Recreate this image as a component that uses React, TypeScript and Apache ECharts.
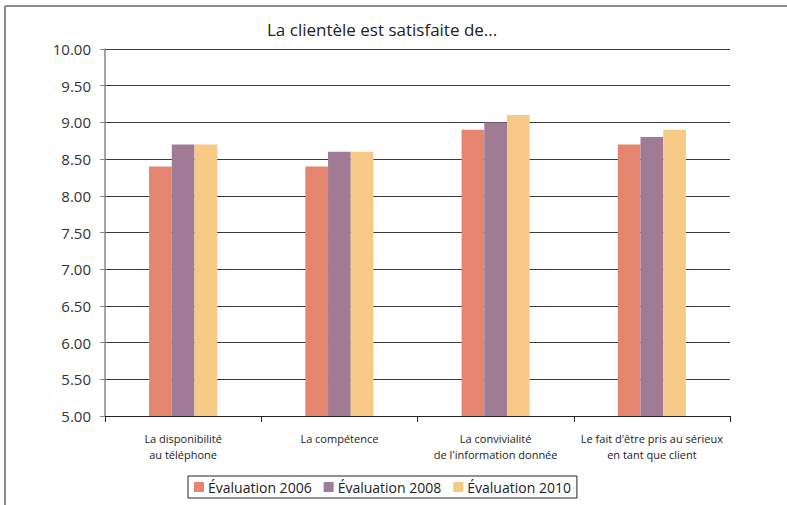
import React, { useEffect, useRef } from "react";
import * as echarts from "echarts";

const categories = [
  "La disponibilité\nau téléphone",
  "La compétence",
  "La convivialité\nde l'information donnée",
  "Le fait d'être pris au sérieux\nen tant que client",
];
const seriesNames = ["Évaluation 2006", "Évaluation 2008", "Évaluation 2010"];
const values2006 = [8.4, 8.4, 8.9, 8.7];
const values2008 = [8.7, 8.6, 9.0, 8.8];
const values2010 = [8.7, 8.6, 9.1, 8.9];
const colors = ["#e4856f", "#a07b96", "#f7c987"];
const FONT = "'Open Sans', 'Noto Sans', sans-serif";

export default function App() {
  const ref = useRef<HTMLDivElement>(null);
  useEffect(() => {
    if (!ref.current) return;
    const chart = echarts.init(ref.current, undefined, { renderer: "svg" });
    const data = [values2006, values2008, values2010];
    chart.setOption({
      animation: false,
      backgroundColor: "#ffffff",
      title: {
        text: "La clientèle est satisfaite de...",
        left: 262,
        top: 16,
        textStyle: { fontFamily: FONT, fontWeight: "normal", fontSize: 17, color: "#222" },
      },
      legend: {
        data: seriesNames,
        left: 188,
        top: 476,
        itemWidth: 10,
        itemHeight: 10,
        itemGap: 12,
        padding: [4, 6],
        borderColor: "#222",
        borderWidth: 1,
        icon: "rect",
        textStyle: { fontFamily: FONT, fontSize: 14, color: "#222", padding: [0, 0, 0, -1] },
      },
      grid: { left: 105, right: 57, top: 49, bottom: 89 },
      xAxis: {
        type: "category",
        data: categories,
        axisLine: { lineStyle: { color: "#222", width: 1 } },
        axisTick: { show: true, length: 6, alignWithLabel: false, interval: 0, lineStyle: { color: "#222" } },
        axisLabel: { fontFamily: FONT, fontSize: 11, color: "#222", margin: 14, lineHeight: 16, interval: 0 },
      },
      yAxis: {
        type: "value",
        min: 5,
        max: 10,
        interval: 0.5,
        axisLine: { show: true, lineStyle: { color: "#888", width: 1.5 } },
        axisTick: { show: true, length: 5, lineStyle: { color: "#888" } },
        axisLabel: {
          fontFamily: FONT,
          fontSize: 15,
          color: "#333",
          margin: 14,
          formatter: (v: number) => v.toFixed(2),
        },
        splitLine: { show: true, lineStyle: { color: "#3a3a3a", width: 1.2 } },
      },
      graphic: [
        { type: "line", shape: { x1: 5, y1: 6, x2: 787, y2: 6 }, style: { stroke: "#8c8c8c", lineWidth: 2 } },
        { type: "line", shape: { x1: 5, y1: 6, x2: 5, y2: 505 }, style: { stroke: "#8c8c8c", lineWidth: 2 } },
      ],
      series: seriesNames.map((name, i) => ({
        name,
        type: "bar",
        data: data[i],
        barWidth: 22.7,
        barGap: "0%",
        itemStyle: { color: colors[i] },
      })),
    });
    return () => chart.dispose();
  }, []);
  return (
    <div
      ref={ref}
      style={{ position: "absolute", left: 0, top: 0, width: 787, height: 505 }}
    />
  );
}
